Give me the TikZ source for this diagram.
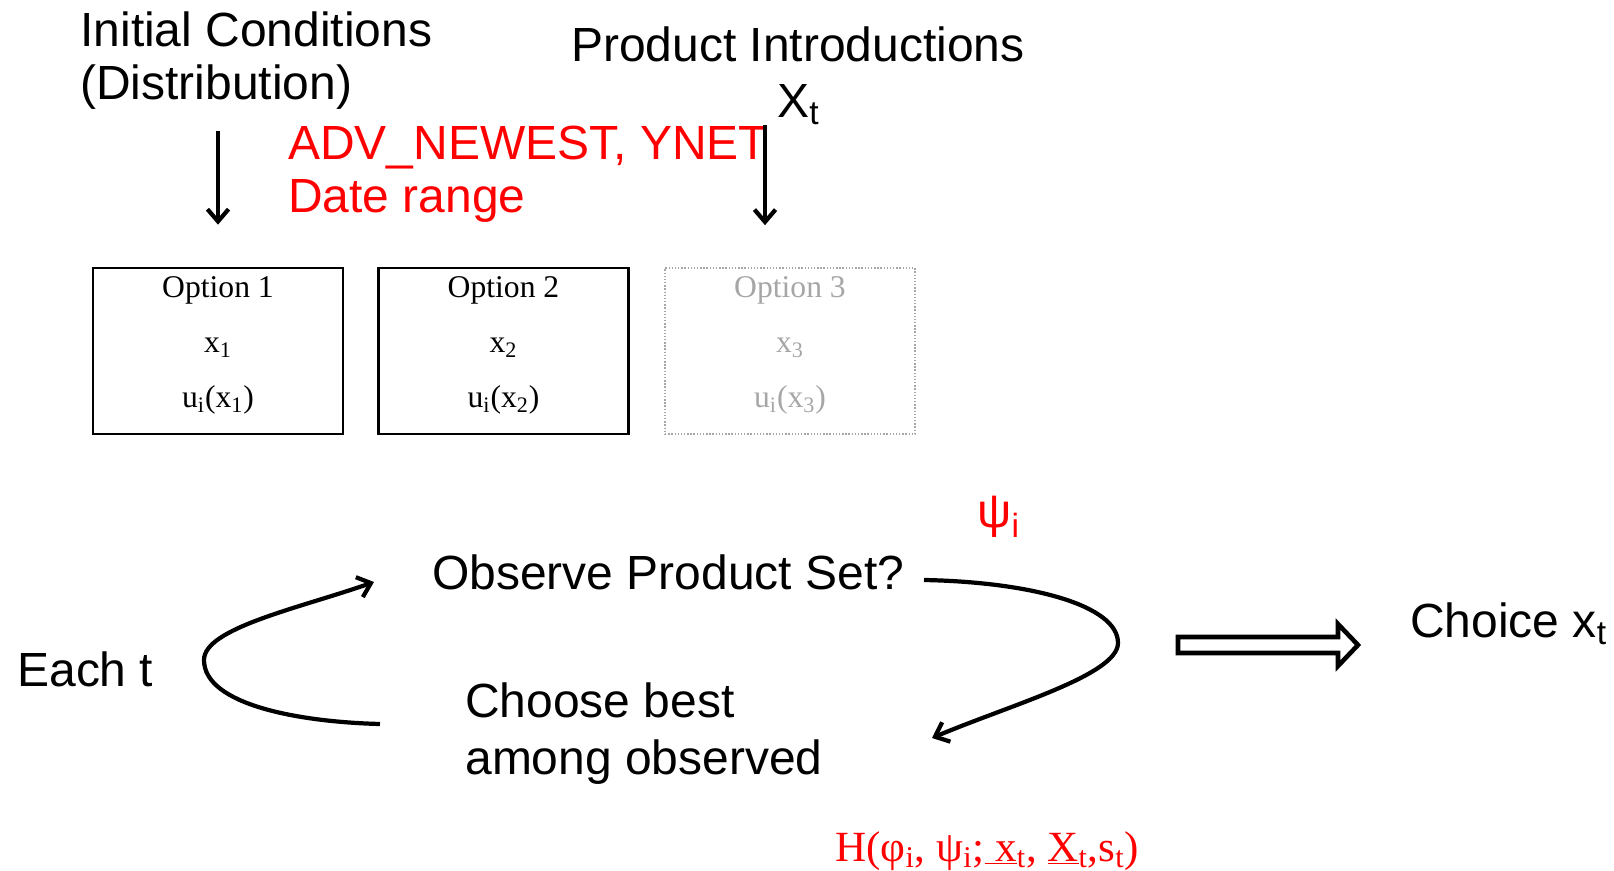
\documentclass[tikz,border=0pt]{standalone}
\usepackage{fontspec}
\setmainfont{Liberation Serif}
\setsansfont{Liberation Sans}
\usetikzlibrary{arrows.meta,calc}
\definecolor{optgray}{RGB}{166,166,166}
\tikzset{
  lbl/.style={font=\sffamily\fontsize{27.3}{33}\selectfont, inner sep=0pt, anchor=base west},
  redlbl/.style={lbl, text=red},
  optbox/.style={draw, line width=1.3pt, minimum width=5cm, minimum height=3.32cm, inner sep=0pt},
  optboxfaded/.style={optbox, draw=optgray, line width=0.8pt, densely dotted},
  opttext/.style={font=\fontsize{18}{22}\selectfont, inner sep=0pt, anchor=base},
  downarrow/.style={line width=2.4pt, -{Straight Barb[length=7pt,width=12pt]}},
  looparrow/.style={line width=2.4pt, -{Straight Barb[length=7pt,width=12pt]}},
  fatarrow/.style={line width=2.6pt, line join=miter}
}
\begin{document}
\begin{tikzpicture}[x=0.02cm, y=-0.02cm]
  \useasboundingbox (0,0) rectangle (1614,871);

  % inputs
  \node[lbl] (initc) at (80,47) {Initial Conditions};
  \node[lbl] (distr) at (80,100) {(Distribution)};
  \node[lbl] (prodintro) at (571,62) {Product Introductions};
  \node[lbl] (xt) at (777,118) {X\textsubscript{t}};
  \node[redlbl] (advnewest) at (288,160) {ADV\_NEWEST, YNET};
  \node[redlbl] (daterange) at (288,213) {Date range};

  % options
  \node[optbox] (opt1) at (218,351) {};
  \node[optbox] (opt2) at (503.5,351) {};
  \node[optboxfaded] (opt3) at (790,351) {};
  \foreach \n/\x/\col in {1/218/black, 2/503.5/black, 3/790/optgray} {
    \node[opttext, text=\col] (optname\n) at (\x,298) {Option \n};
    \node[opttext, text=\col] (optx\n) at (\x,353) {x\textsubscript{\n}};
    \node[opttext, text=\col] (optu\n) at (\x,408) {u\textsubscript{i}(x\textsubscript{\n})};
  }

  \draw[downarrow, shorten <=12pt, shorten >=24pt] (opt1.north |- distr.south) -- (opt1.north);
  \coordinate (pidrop) at ($(opt3.north)+(-25,0)$);
  \draw[downarrow, shorten >=24pt] (pidrop |- xt.south) -- (pidrop);

  % each period
  \node[lbl] (eacht) at (17,686) {Each t};
  \node[lbl] (observe) at (432,590) {Observe Product Set?};
  \node[lbl] (choose) at (465,718) {Choose best};
  \node[lbl] (among) at (465,774) {among observed};
  \node[redlbl] (psi) at (977,528) {ψ\textsubscript{i}};
  \node[font=\fontsize{24.5}{28}\selectfont, text=red, inner sep=0pt, anchor=base west] (hfun) at (835,861)
    {H(φ\textsubscript{i}, ψ\textsubscript{i};\underline{\ x}\textsubscript{t}, \underline{X}\textsubscript{t},s\textsubscript{t})};
  \node[lbl] (choice) at (1410,638) {Choice x\textsubscript{t}};

  \coordinate (lstart) at (380,724);
  \coordinate (lend) at (374,582);
  \coordinate (rstart) at (924,580);
  \coordinate (rend) at (932,738);
  \draw[looparrow] (lstart) .. controls (300,722) and (204,705) .. (204,660)
    .. controls (204,628) and (300,608) .. (lend);
  \draw[looparrow] (rstart) .. controls (1030,582) and (1118,605) .. (1118,643)
    .. controls (1118,675) and (1010,705) .. (rend);

  \draw[fatarrow] (1178,637) -- (1338,637) -- (1338,624) -- (1358,645) -- (1338,666)
    -- (1338,653) -- (1178,653) -- cycle;
\end{tikzpicture}
\end{document}
